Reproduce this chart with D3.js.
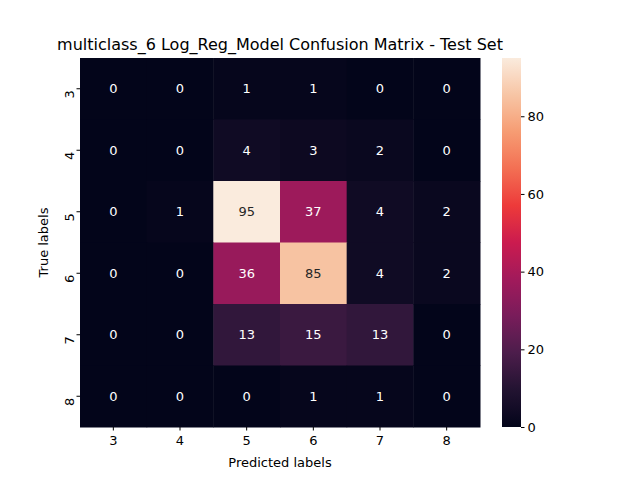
<!DOCTYPE html>
<html lang="en">
<head>
<meta charset="UTF-8">
<script src="https://d3js.org/d3.v7.min.js"></script>
<style>
  body { margin: 0; background: #fff; }
  text { font-family: "DejaVu Sans", sans-serif; }
</style>
</head>
<body>
<svg id="chart" width="640" height="480"></svg>
<script>
const labels = ["3", "4", "5", "6", "7", "8"];
const matrix = [
  [0, 0, 1, 1, 0, 0],
  [0, 0, 4, 3, 2, 0],
  [0, 1, 95, 37, 4, 2],
  [0, 0, 36, 85, 4, 2],
  [0, 0, 13, 15, 13, 0],
  [0, 0, 0, 1, 1, 0]
];
const cbTicks = [0, 20, 40, 60, 80];

const svg = d3.select("#chart");
const plot = { left: 80, top: 58, width: 400, height: 369 };
const vmax = d3.max(matrix.flat());

// approximation of seaborn "rocket"
const rocket = d3.scaleLinear()
  .domain([0, 0.1, 0.2, 0.3, 0.4, 0.5, 0.6, 0.7, 0.8, 0.9, 1])
  .range(["#03051a", "#221331", "#4c1d4b", "#781c5a", "#a11a5b", "#cb1b4f",
          "#ed3a3a", "#f36f53", "#f69c73", "#f7c5a5", "#faebdd"])
  .interpolate(d3.interpolateRgb);
const color = v => rocket(v / vmax);

const x = d3.scaleBand().domain(labels).range([plot.left, plot.left + plot.width]);
const y = d3.scaleBand().domain(labels).range([plot.top, plot.top + plot.height]);

const cells = [];
matrix.forEach((row, i) => row.forEach((v, j) => cells.push({ r: labels[i], c: labels[j], v })));

svg.selectAll("rect.cell").data(cells).enter().append("rect")
  .attr("class", "cell")
  .attr("x", d => x(d.c)).attr("y", d => y(d.r))
  .attr("width", x.bandwidth() + 0.5).attr("height", y.bandwidth() + 0.5)
  .attr("fill", d => color(d.v));

svg.selectAll("text.ann").data(cells).enter().append("text")
  .attr("class", "ann")
  .attr("x", d => x(d.c) + x.bandwidth() / 2)
  .attr("y", d => y(d.r) + y.bandwidth() / 2)
  .attr("text-anchor", "middle").attr("dominant-baseline", "central")
  .attr("font-size", "13px")
  .attr("fill", d => {
    const c = d3.rgb(color(d.v));
    const lum = 0.2126 * c.r / 255 + 0.7152 * c.g / 255 + 0.0722 * c.b / 255;
    return lum > 0.408 ? "#262626" : "#fff";
  })
  .text(d => d.v);

const xAxis = svg.append("g")
  .attr("transform", `translate(0,${plot.top + plot.height})`)
  .call(d3.axisBottom(x).tickSize(3.5));
const yAxis = svg.append("g")
  .attr("transform", `translate(${plot.left},0)`)
  .call(d3.axisLeft(y).tickSize(3.5));
[xAxis, yAxis].forEach(a => {
  a.select(".domain").remove();
  a.selectAll("text").attr("font-size", "13px").attr("fill", "#000");
});
xAxis.selectAll("text").attr("dy", "0.9em");
yAxis.selectAll("text")
  .attr("transform", function () {
    const t = d3.select(this);
    return `rotate(-90,${t.attr("x")},0)`;
  })
  .attr("text-anchor", "middle").attr("x", -12).attr("dy", "0");

svg.append("text").attr("x", plot.left + plot.width / 2).attr("y", 467)
  .attr("text-anchor", "middle").attr("font-size", "13px").text("Predicted labels");
svg.append("text").attr("transform", `translate(48,${plot.top + plot.height / 2}) rotate(-90)`)
  .attr("text-anchor", "middle").attr("font-size", "13px").text("True labels");
svg.append("text").attr("x", plot.left + plot.width / 2).attr("y", 50)
  .attr("text-anchor", "middle").attr("font-size", "16px")
  .text("multiclass_6 Log_Reg_Model Confusion Matrix - Test Set");

// colorbar
const cb = { left: 502, width: 19 };
const cy = d3.scaleLinear().domain([0, vmax]).range([plot.top + plot.height, plot.top]);
const grad = svg.append("defs").append("linearGradient")
  .attr("id", "cbgrad").attr("x1", 0).attr("y1", 1).attr("x2", 0).attr("y2", 0);
d3.range(0, 1.0001, 0.05).forEach(t => {
  grad.append("stop").attr("offset", t).attr("stop-color", rocket(t));
});
svg.append("rect").attr("x", cb.left).attr("y", plot.top)
  .attr("width", cb.width).attr("height", plot.height).attr("fill", "url(#cbgrad)");
const cbAxis = svg.append("g")
  .attr("transform", `translate(${cb.left + cb.width},0)`)
  .call(d3.axisRight(cy).tickValues(cbTicks).tickSize(3.5));
cbAxis.select(".domain").remove();
cbAxis.selectAll("text").attr("font-size", "13px").attr("fill", "#000");
</script>
</body>
</html>
